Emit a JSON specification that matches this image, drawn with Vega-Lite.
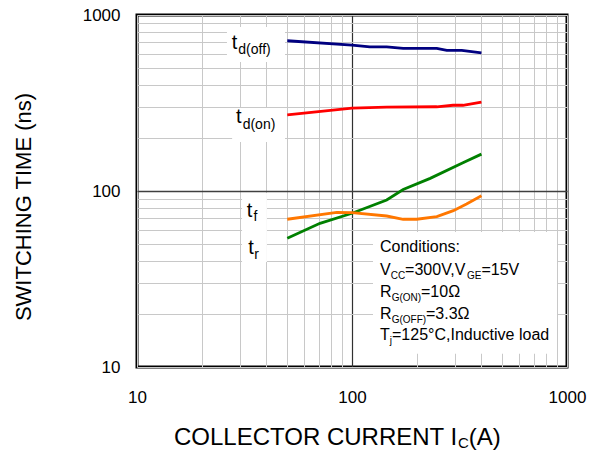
{
  "$schema": "https://vega.github.io/schema/vega-lite/v6.json",
  "width": 430,
  "height": 352,
  "autosize": "none",
  "padding": {"left": 137, "top": 15, "right": 28, "bottom": 85},
  "background": "white",
  "config": {
    "view": {"stroke": "black", "strokeWidth": 3},
    "font": "Liberation Sans",
    "text": {"font": "Liberation Sans", "color": "black"}
  },
  "datasets": {
    "curves": [
      {"x": 50, "y": 714, "s": "td(off)"},
      {"x": 100, "y": 675, "s": "td(off)"},
      {"x": 121, "y": 659, "s": "td(off)"},
      {"x": 145, "y": 659, "s": "td(off)"},
      {"x": 173, "y": 646, "s": "td(off)"},
      {"x": 248, "y": 646, "s": "td(off)"},
      {"x": 276, "y": 629, "s": "td(off)"},
      {"x": 324, "y": 629, "s": "td(off)"},
      {"x": 400, "y": 610, "s": "td(off)"},
      {"x": 50, "y": 271, "s": "td(on)"},
      {"x": 100, "y": 296, "s": "td(on)"},
      {"x": 145, "y": 300, "s": "td(on)"},
      {"x": 248, "y": 301, "s": "td(on)"},
      {"x": 295, "y": 307, "s": "td(on)"},
      {"x": 328, "y": 307, "s": "td(on)"},
      {"x": 400, "y": 320, "s": "td(on)"},
      {"x": 50, "y": 53.9, "s": "tr"},
      {"x": 71, "y": 65.5, "s": "tr"},
      {"x": 100, "y": 74.7, "s": "tr"},
      {"x": 145, "y": 88.9, "s": "tr"},
      {"x": 173, "y": 102, "s": "tr"},
      {"x": 231, "y": 118, "s": "tr"},
      {"x": 330, "y": 145, "s": "tr"},
      {"x": 400, "y": 162, "s": "tr"},
      {"x": 50, "y": 69.1, "s": "tf"},
      {"x": 85, "y": 75.7, "s": "tf"},
      {"x": 100, "y": 75.3, "s": "tf"},
      {"x": 145, "y": 72.1, "s": "tf"},
      {"x": 173, "y": 69.1, "s": "tf"},
      {"x": 200, "y": 69.1, "s": "tf"},
      {"x": 248, "y": 71.5, "s": "tf"},
      {"x": 296, "y": 77.3, "s": "tf"},
      {"x": 341, "y": 84.3, "s": "tf"},
      {"x": 400, "y": 94, "s": "tf"}
    ],
    "boxes": [
      {"x": 26.2, "x2": 48.8, "y": 541, "y2": 855},
      {"x": 27.7, "x2": 48.8, "y": 190, "y2": 296},
      {"x": 30.8, "x2": 40.2, "y": 39.5, "y2": 97.4},
      {"x": 125.2, "x2": 898.4, "y": 11.9, "y2": 58.5}
    ],
    "texts": [
      {"x": 27.6, "y": 638.6, "text": "t", "role": "lbl"},
      {"x": 29.6, "y": 600.4, "text": "d(off)", "role": "lblsub"},
      {"x": 28.9, "y": 242.5, "text": "t", "role": "lbl"},
      {"x": 31.0, "y": 224.2, "text": "d(on)", "role": "lblsub"},
      {"x": 32.4, "y": 70.9, "text": "t", "role": "lbl"},
      {"x": 34.8, "y": 67.8, "text": "f", "role": "lblsub"},
      {"x": 32.9, "y": 43.9, "text": "t", "role": "lbl"},
      {"x": 35.1, "y": 41.1, "text": "r", "role": "lblsub"},
      {"x": 134.9, "y": 45.0, "text": "Conditions:", "role": "cond"},
      {"x": 134.9, "y": 33.3, "text": "V", "role": "cond"},
      {"x": 151.4, "y": 31.6, "text": "CC", "role": "condsub"},
      {"x": 176.6, "y": 33.3, "text": "=300V,V", "role": "cond"},
      {"x": 342.3, "y": 31.6, "text": "GE", "role": "condsub"},
      {"x": 399.9, "y": 33.3, "text": "=15V", "role": "cond"},
      {"x": 134.9, "y": 25.0, "text": "R", "role": "cond"},
      {"x": 152.9, "y": 23.7, "text": "G(ON)", "role": "condsub"},
      {"x": 209.4, "y": 25.0, "text": "=10Ω", "role": "cond"},
      {"x": 134.9, "y": 18.7, "text": "R", "role": "cond"},
      {"x": 152.9, "y": 17.8, "text": "G(OFF)", "role": "condsub"},
      {"x": 220.9, "y": 18.7, "text": "=3.3Ω", "role": "cond"},
      {"x": 134.9, "y": 14.2, "text": "T", "role": "cond"},
      {"x": 149.9, "y": 13.5, "text": "j", "role": "condsub"},
      {"x": 153.5, "y": 14.2, "text": "=125°C,Inductive load", "role": "cond"},
      {"x": 14.86, "y": 3.605, "text": "COLLECTOR CURRENT I", "role": "xt"},
      {"x": 311.2, "y": 3.466, "text": "C", "role": "xtsub"},
      {"x": 349.3, "y": 3.605, "text": "(A)", "role": "xt"}
    ]
  },
  "encoding": {
    "x": {
      "field": "x", "type": "quantitative",
      "scale": {"type": "log", "domain": [10, 1000], "nice": false},
      "axis": {
        "title": null,
        "values": [10, 20, 30, 40, 50, 60, 70, 80, 90, 100, 200, 300, 400, 500, 600, 700, 800, 900, 1000],
        "labelExpr": "datum.value == 10 || datum.value == 100 || datum.value == 1000 ? toString(datum.value) : ''",
        "labelOverlap": false,
        "labelFlush": false,
        "labelFont": "Liberation Sans",
        "labelFontSize": 17,
        "labelColor": "black",
        "labelPadding": 22,
        "ticks": false,
        "tickSize": 0,
        "domain": false,
        "grid": true,
        "gridColor": {"condition": {"test": "datum.value == 100", "value": "#303030"}, "value": "#c8c8c8"},
        "gridWidth": {"condition": {"test": "datum.value == 100", "value": 1.2}, "value": 1},
        "gridOpacity": 1
      }
    },
    "y": {
      "field": "y", "type": "quantitative",
      "scale": {"type": "log", "domain": [10, 1000], "nice": false},
      "axis": {
        "title": "SWITCHING TIME (ns)",
        "titleFont": "Liberation Sans",
        "titleFontSize": 22,
        "titleFontWeight": "normal",
        "titleColor": "black",
        "titleAngle": -90,
        "titleX": -113.5,
        "titleY": 191.5,
        "titleAlign": "center",
        "titleBaseline": "middle",
        "values": [10, 20, 30, 40, 50, 60, 70, 80, 90, 100, 200, 300, 400, 500, 600, 700, 800, 900, 1000],
        "labelExpr": "datum.value == 10 || datum.value == 100 || datum.value == 1000 ? toString(datum.value) : ''",
        "labelOverlap": false,
        "labelFlush": false,
        "labelFont": "Liberation Sans",
        "labelFontSize": 17,
        "labelColor": "black",
        "labelPadding": 17,
        "ticks": false,
        "tickSize": 0,
        "domain": false,
        "grid": true,
        "gridColor": {"condition": {"test": "datum.value == 100", "value": "#404040"}, "value": "#c8c8c8"},
        "gridWidth": {"condition": {"test": "datum.value == 100", "value": 1.5}, "value": 1},
        "gridOpacity": 1
      }
    }
  },
  "layer": [
    {
      "data": {"name": "boxes"},
      "mark": {"type": "rect", "fill": "white", "strokeWidth": 0},
      "encoding": {
        "x2": {"field": "x2"},
        "y2": {"field": "y2"}
      }
    },
    {
      "data": {"name": "curves"},
      "mark": {"type": "line", "strokeWidth": 2.8, "clip": true},
      "encoding": {
        "color": {
          "field": "s", "type": "nominal",
          "scale": {"domain": ["td(off)", "td(on)", "tr", "tf"], "range": ["#000080", "#ff0000", "#008000", "#ff7700"]},
          "legend": null
        }
      }
    },
    {
      "data": {"name": "texts"},
      "transform": [{"filter": "datum.role == 'lbl'"}],
      "mark": {"type": "text", "align": "left", "baseline": "alphabetic", "fontSize": 20, "clip": false},
      "encoding": {"text": {"field": "text"}}
    },
    {
      "data": {"name": "texts"},
      "transform": [{"filter": "datum.role == 'lblsub'"}],
      "mark": {"type": "text", "align": "left", "baseline": "alphabetic", "fontSize": 14, "clip": false},
      "encoding": {"text": {"field": "text"}}
    },
    {
      "data": {"name": "texts"},
      "transform": [{"filter": "datum.role == 'cond'"}],
      "mark": {"type": "text", "align": "left", "baseline": "alphabetic", "fontSize": 16, "clip": false},
      "encoding": {"text": {"field": "text"}}
    },
    {
      "data": {"name": "texts"},
      "transform": [{"filter": "datum.role == 'condsub'"}],
      "mark": {"type": "text", "align": "left", "baseline": "alphabetic", "fontSize": 10, "clip": false},
      "encoding": {"text": {"field": "text"}}
    },
    {
      "data": {"name": "texts"},
      "transform": [{"filter": "datum.role == 'xt'"}],
      "mark": {"type": "text", "align": "left", "baseline": "alphabetic", "fontSize": 24, "clip": false},
      "encoding": {"text": {"field": "text"}}
    },
    {
      "data": {"name": "texts"},
      "transform": [{"filter": "datum.role == 'xtsub'"}],
      "mark": {"type": "text", "align": "left", "baseline": "alphabetic", "fontSize": 15, "clip": false},
      "encoding": {"text": {"field": "text"}}
    }
  ]
}
